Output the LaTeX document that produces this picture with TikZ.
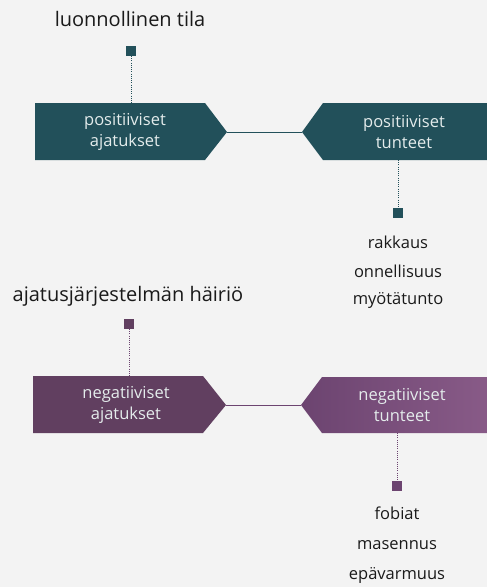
\documentclass[tikz,border=0pt]{standalone}
\usepackage{fontspec}
\setmainfont{Open Sans}
\definecolor{bg}{HTML}{F3F3F3}
\definecolor{teal}{HTML}{22505A}
\definecolor{purpA}{HTML}{613F60}
\definecolor{purpB}{HTML}{6C4470}
\definecolor{purpC}{HTML}{8A5C89}
\definecolor{boxtxt}{HTML}{E4ECEC}
\definecolor{txt}{HTML}{1A1A1A}
\begin{document}
\begin{tikzpicture}[x=1pt,y=-1pt,
  head/.style={font=\fontsize{20}{24}\selectfont, text=txt},
  item/.style={font=\fontsize{16.5}{20}\selectfont, text=txt},
  boxlabel/.style={font=\fontsize{16.5}{21}\selectfont, text=boxtxt, align=center},
  marker/.style={minimum size=9.5pt, inner sep=0pt},
  dotline/.style={line width=1pt, dash pattern=on 1pt off 1.2pt},
  link/.style={line width=0.8pt}]
\fill[bg] (0,0) rectangle (487,587);
\useasboundingbox (0,0) rectangle (487,587);
% ---------- top row ----------
\node[head] (h1) at (130,19) {luonnollinen tila};
\node[marker, fill=teal] (m1) at (131,51) {};
\fill[teal] (35,103) -- (205,103) -- (227,132) -- (205,160) -- (35,160) -- cycle;
\coordinate (b1top) at (131,103);
\coordinate (b1tip) at (227,132);
\node[boxlabel] (t1) at (125,132) {positiiviset\\ajatukset};
\begin{scope}
\clip (0,0) rectangle (487,587);
\fill[teal] (302,132) -- (323,103) -- (500,103) -- (500,160) -- (323,160) -- cycle;
\end{scope}
\coordinate (b2tip) at (302,132);
\coordinate (b2bot) at (398,160);
\node[boxlabel] (t2) at (404,132) {positiiviset\\tunteet};
\draw[teal, dotline] (m1) -- (b1top);
\draw[teal, link] (b1tip) -- (b2tip);
\node[marker, fill=teal] (m2) at (398,213) {};
\draw[teal, dotline] (b2bot) -- (m2);
\node[item] (r1) at (398,242) {rakkaus};
\node[item] (r2) at (398,271) {onnellisuus};
\node[item] (r3) at (398,300) {myötätunto};
% ---------- bottom row ----------
\node[head] (h2) at (128,296) {ajatusjärjestelmän häiriö};
\node[marker, fill=purpA] (m3) at (129,324) {};
\fill[purpA] (33,376) -- (203,376) -- (226,405) -- (203,433) -- (33,433) -- cycle;
\coordinate (b3top) at (129,376);
\coordinate (b3tip) at (226,405);
\node[boxlabel] (t3) at (126,405) {negatiiviset\\ajatukset};
\begin{scope}
\clip (0,0) rectangle (487,587);
\shade[left color=purpB, right color=purpC] (301,405) -- (322,377) -- (500,377) -- (500,433) -- (322,433) -- cycle;
\end{scope}
\coordinate (b4tip) at (301,405);
\coordinate (b4bot) at (397,433);
\node[boxlabel] (t4) at (402,405) {negatiiviset\\tunteet};
\draw[purpB, dotline] (m3) -- (b3top);
\draw[purpB, link] (b3tip) -- (b4tip);
\node[marker, fill=purpB] (m4) at (397,486) {};
\draw[purpB, dotline] (b4bot) -- (m4);
\node[item] (s1) at (397,513) {fobiat};
\node[item] (s2) at (397,545) {masennus};
\node[item] (s3) at (397,575) {epävarmuus};
\end{tikzpicture}
\end{document}
